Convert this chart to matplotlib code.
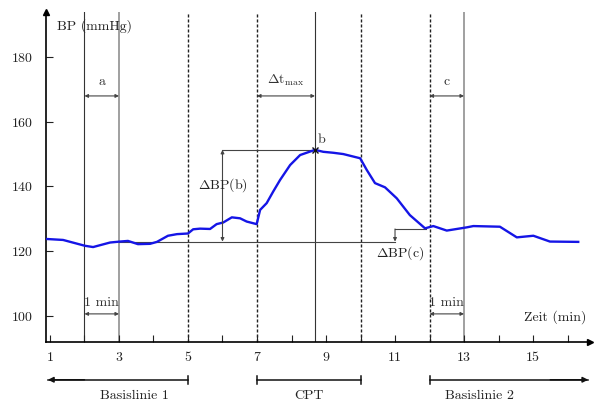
import matplotlib
matplotlib.use("Agg")
import matplotlib.pyplot as plt

plt.rcParams["font.family"] = "serif"
plt.rcParams["font.serif"] = ["cmr10", "DejaVu Serif"]
plt.rcParams["mathtext.fontset"] = "cm"
plt.rcParams["axes.formatter.use_mathtext"] = True

# blood pressure trace (minutes, mmHg)
t_min = [0.90, 1.38, 2.01, 2.25, 2.74, 3.03, 3.26, 3.55, 3.90, 4.10, 4.42, 4.68,
         5.00, 5.15, 5.35, 5.64, 5.83, 6.02, 6.27, 6.51, 6.70, 6.99, 7.09, 7.28,
         7.47, 7.67, 7.96, 8.25, 8.68, 8.92, 9.21, 9.50, 9.99, 10.18, 10.42, 10.71,
         11.05, 11.43, 11.87, 12.11, 12.50, 13.08, 13.27, 14.04, 14.53, 15.01,
         15.49, 16.31]
bp = [123.7, 123.4, 121.6, 121.2, 122.6, 122.9, 123.1, 122.1, 122.2, 122.8, 124.7, 125.2,
      125.4, 126.7, 126.9, 126.8, 128.3, 128.8, 130.4, 130.1, 129.1, 128.3, 132.7, 134.8,
      138.4, 142.0, 146.6, 149.7, 151.3, 150.7, 150.4, 150.0, 148.7, 145.1, 141.0, 139.7,
      136.3, 131.1, 127.0, 127.7, 126.3, 127.3, 127.7, 127.5, 124.2, 124.7,
      122.9, 122.8]

baseline1 = 122.9
peak_t, peak_bp = 8.68, 151.3
recovery_bp = 126.8

dashed_t = [5, 7, 10, 12]
black_t = [2, peak_t]
gray_t = [3, 13]

x_ticks = list(range(1, 17))
x_labels = [str(v) if v % 2 == 1 else "" for v in x_ticks]
y_ticks = [100, 120, 140, 160, 180]

phase_names = ["Basislinie 1", "CPT", "Basislinie 2"]
phase_start = [0.94, 7, 12]
phase_end = [5, 10, 16.6]
phase_label_x = [3.46, 8.5, 13.46]

fig = plt.figure(figsize=(5.94, 4.05), dpi=100)
ax = fig.add_axes([0.0774, 0.1556, 0.9158, 0.8148])
ax.set_xlim(0.884, 16.65)
ax.set_ylim(91.8, 194.0)

for s in ["top", "right"]:
    ax.spines[s].set_visible(False)
for s in ["left", "bottom"]:
    ax.spines[s].set_linewidth(1.2)
ax.plot(1, 0, ">k", ms=4, transform=ax.transAxes, clip_on=False)
ax.plot(0, 1, "^k", ms=4, transform=ax.transAxes, clip_on=False)

ax.set_xticks(x_ticks)
ax.set_xticklabels(x_labels)
ax.set_yticks(y_ticks)
ax.tick_params(axis="x", direction="in", length=5, width=0.8, pad=7, labelsize=10, colors="#222")
ax.tick_params(axis="y", direction="in", length=5, width=0.8, pad=9, labelsize=10, colors="#222")

# vertical markers
for xv in dashed_t:
    ax.axvline(xv, color="#222", lw=1.0, ls=(0, (2.2, 1.4)), zorder=1)
for xv in black_t:
    ax.axvline(xv, color="#333", lw=0.8, zorder=1)
for xv in gray_t:
    ax.axvline(xv, color="#999", lw=1.3, zorder=1)

ax.plot(t_min, bp, color="#1515e6", lw=1.7, zorder=3)

arr = dict(arrowstyle="<|-|>", color="#444", lw=0.8, mutation_scale=5, shrinkA=0, shrinkB=0)
one = dict(arrowstyle="-|>", color="#444", lw=0.8, mutation_scale=5, shrinkA=0, shrinkB=0)
ann_y = 168
for x0, x1, lab in [(2, 3, "a"), (7, peak_t, r"$\Delta\mathrm{t}_{\mathrm{max}}$"), (12, 13, "c")]:
    ax.annotate("", xy=(x0, ann_y), xytext=(x1, ann_y), arrowprops=arr)
    ax.text((x0 + x1) / 2, ann_y + 2.5, lab, ha="center", va="bottom", fontsize=10, color="#333")
for x0 in [2, 12]:
    ax.annotate("", xy=(x0, 100.5), xytext=(x0 + 1, 100.5), arrowprops=arr)
    ax.text(x0 + 0.5, 102.0, "1 min", ha="center", va="bottom", fontsize=10, color="#333")

# baseline and deltas
ax.plot([3, 11], [baseline1, baseline1], color="#444", lw=0.8, zorder=2)
ax.plot([6, peak_t], [peak_bp, peak_bp], color="#444", lw=0.8, zorder=2)
ax.annotate("", xy=(6, baseline1), xytext=(6, peak_bp), arrowprops=arr)
ax.text(6.0, 140.5, r"$\Delta$BP(b)", ha="center", va="center", fontsize=10, color="#222")
ax.plot([11, 11.9], [recovery_bp, recovery_bp], color="#444", lw=0.8, zorder=2)
ax.annotate("", xy=(11, baseline1), xytext=(11, recovery_bp), arrowprops=one)
ax.text(11.14, 119.4, r"$\Delta$BP(c)", ha="center", va="center", fontsize=10, color="#222")

ax.plot(peak_t, peak_bp, "x", color="#111", ms=5, mew=1.0, zorder=4)
ax.text(peak_t + 0.08, peak_bp + 1.3, "b", ha="left", va="bottom", fontsize=10, color="#333")

ax.text(1.2, 189.5, "BP (mmHg)", ha="left", va="center", fontsize=10, color="#222")
ax.text(16.55, 99.6, "Zeit (min)", ha="right", va="center", fontsize=10, color="#222")

# phase brackets below the axis
br_y, lab_y = 80.1, 75.0
for name, x0, x1, lx in zip(phase_names, phase_start, phase_end, phase_label_x):
    ax.plot([x0, x1], [br_y, br_y], color="#111", lw=1.1, clip_on=False)
    ax.text(lx, lab_y, name, ha="center", va="center", fontsize=10, color="#222")
for xv in [5, 7, 10, 12]:
    ax.plot([xv, xv], [br_y - 1.2, br_y + 1.2], color="#111", lw=1.1, clip_on=False)
head = dict(arrowstyle="-|>", color="#111", lw=1.1, mutation_scale=8, shrinkA=0, shrinkB=0)
ax.annotate("", xy=(phase_start[0], br_y), xytext=(2, br_y), annotation_clip=False, arrowprops=head)
ax.annotate("", xy=(phase_end[2], br_y), xytext=(15.5, br_y), annotation_clip=False, arrowprops=head)

fig.savefig("out.png", dpi=100)
